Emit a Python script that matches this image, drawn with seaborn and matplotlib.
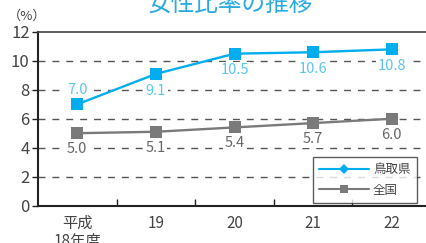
import matplotlib
matplotlib.use("Agg")
import matplotlib.pyplot as plt
from matplotlib.lines import Line2D
from matplotlib.ticker import FixedLocator
import seaborn as sns
import pandas as pd

categories = ["平成\n18年度", "19", "20", "21", "22"]
tottori = [7.0, 9.1, 10.5, 10.6, 10.8]
zenkoku = [5.0, 5.1, 5.4, 5.7, 6.0]
tottori_labels = ["7.0", "9.1", "10.5", "10.6", "10.8"]
zenkoku_labels = ["5.0", "5.1", "5.4", "5.7", "6.0"]
title = "女性比率の推移"
series_names = ["鳥取県", "全国"]

sns.set_theme(style="white")
plt.rcParams["font.family"] = ["Noto Sans CJK JP", "DejaVu Sans"]

BLUE = "#00aeef"
BLUE_LBL = "#5cc6ee"
GRAY = "#7a7a7a"
TXT = "#444444"

fig = plt.figure(figsize=(4.26, 2.43), dpi=100)
ax = fig.add_axes([38/426, 1 - 205.5/243, (431-38)/426, (205.5-32)/243])

x = list(range(len(categories)))
df = pd.DataFrame({"x": x * 2, "y": tottori + zenkoku,
                   "s": [series_names[0]] * 5 + [series_names[1]] * 5})

for yv in [2, 4, 6, 8, 10]:
    ax.axhline(yv, color="#555555", lw=1.0, ls=(0, (5, 5)), zorder=1)

sns.lineplot(data=df[df.s == series_names[0]], x="x", y="y", ax=ax, color=BLUE,
             marker="s", markersize=8, markeredgewidth=0, lw=1.7, legend=False, zorder=4)
sns.lineplot(data=df[df.s == series_names[1]], x="x", y="y", ax=ax, color=GRAY,
             marker="s", markersize=8, markeredgewidth=0, lw=1.7, legend=False, zorder=4)

bb = dict(boxstyle="square,pad=0.1", fc="white", ec="none")
for i, (v, t) in enumerate(zip(tottori, tottori_labels)):
    off = 10.5 if i == 0 else -12
    ax.annotate(t, (i, v), xytext=(0, off), textcoords="offset points",
                ha="center", va="center", color=BLUE_LBL, fontsize=10.5, bbox=bb, zorder=3)
for i, (v, t) in enumerate(zip(zenkoku, zenkoku_labels)):
    ax.annotate(t, (i, v), xytext=(0, -11.5), textcoords="offset points",
                ha="center", va="center", color="#666666", fontsize=10.5, bbox=bb, zorder=3)

ax.set_xlim(-0.5, 4.5)
ax.set_ylim(0, 12)
ax.set_yticks([0, 2, 4, 6, 8, 10, 12])
ax.set_yticklabels(["0", "2", "4", "6", "8", "10", "12"], fontsize=12, color=TXT)
ax.set_xticks(x)
ax.set_xticklabels(categories, fontsize=11, color=TXT, linespacing=1.0)
ax.xaxis.set_minor_locator(FixedLocator([0.5, 1.5, 2.5, 3.5]))
ax.tick_params(axis="x", which="major", length=0, pad=7)
ax.tick_params(axis="x", which="minor", direction="in", length=5, width=1, color="#222222", bottom=True)
ax.tick_params(axis="y", which="major", direction="out", length=4, width=1, color="#222222", pad=2, left=True)
ax.set_xlabel("")
ax.set_ylabel("")

for s in ["left", "bottom"]:
    ax.spines[s].set_color("#222222")
    ax.spines[s].set_linewidth(1.5)
ax.spines["top"].set_color("#444444")
ax.spines["top"].set_linewidth(1.2)
ax.spines["right"].set_color("#444444")

handles = [Line2D([], [], color=BLUE, lw=1.5, marker="D", markersize=5, markeredgewidth=0),
           Line2D([], [], color=GRAY, lw=1.5, marker="s", markersize=6, markeredgewidth=0)]
leg = fig.legend(handles, series_names, loc="upper left",
                 bbox_to_anchor=(313/426, 1 - 157/243), fontsize=9,
                 frameon=True, fancybox=False, edgecolor="#333333",
                 handlelength=4.0, borderpad=0.5, labelspacing=0.6,
                 handletextpad=0.3, borderaxespad=0)
leg.get_frame().set_linewidth(1.0)
for t in leg.get_texts():
    t.set_color(TXT)

fig.text(230/426, 1 - 4/243, title, ha="center", va="center", fontsize=17, color="#29abe2")
fig.text(8/426, 1 - 16/243, "（%）", ha="left", va="center", fontsize=9.5, color=TXT)

fig.savefig("out.png", dpi=100)
